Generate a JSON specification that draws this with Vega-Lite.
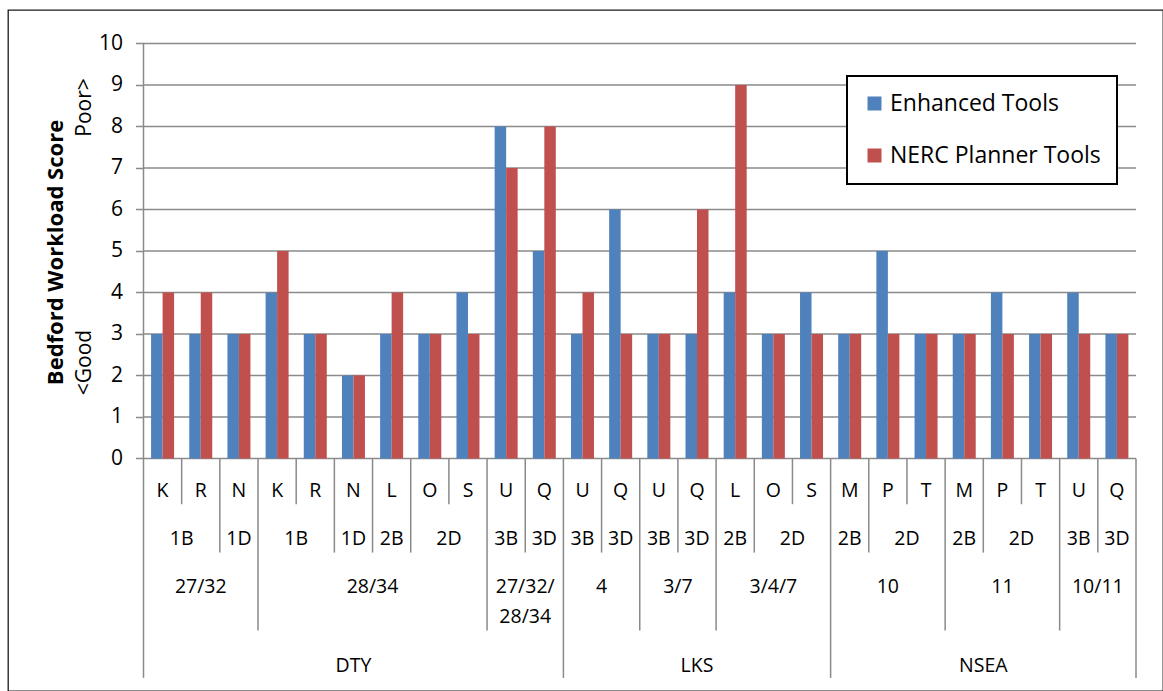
{
  "$schema": "https://vega.github.io/schema/vega-lite/v6.json",
  "width": 1155,
  "height": 681,
  "autosize": {"type": "none"},
  "padding": {"left": 8, "top": 10, "right": 0, "bottom": 0},
  "background": "white",
  "config": {
    "view": {"stroke": "#1a1a1a", "strokeWidth": 1.3},
    "font": "Open Sans",
    "text": {"font": "Open Sans", "color": "black"},
    "legend": {"strokeWidth": 2}
  },
  "datasets": {
    "bars": [
      {"cat": "c01", "series": "Enhanced Tools", "score": 3}, {"cat": "c01", "series": "NERC Planner Tools", "score": 4},
      {"cat": "c02", "series": "Enhanced Tools", "score": 3}, {"cat": "c02", "series": "NERC Planner Tools", "score": 4},
      {"cat": "c03", "series": "Enhanced Tools", "score": 3}, {"cat": "c03", "series": "NERC Planner Tools", "score": 3},
      {"cat": "c04", "series": "Enhanced Tools", "score": 4}, {"cat": "c04", "series": "NERC Planner Tools", "score": 5},
      {"cat": "c05", "series": "Enhanced Tools", "score": 3}, {"cat": "c05", "series": "NERC Planner Tools", "score": 3},
      {"cat": "c06", "series": "Enhanced Tools", "score": 2}, {"cat": "c06", "series": "NERC Planner Tools", "score": 2},
      {"cat": "c07", "series": "Enhanced Tools", "score": 3}, {"cat": "c07", "series": "NERC Planner Tools", "score": 4},
      {"cat": "c08", "series": "Enhanced Tools", "score": 3}, {"cat": "c08", "series": "NERC Planner Tools", "score": 3},
      {"cat": "c09", "series": "Enhanced Tools", "score": 4}, {"cat": "c09", "series": "NERC Planner Tools", "score": 3},
      {"cat": "c10", "series": "Enhanced Tools", "score": 8}, {"cat": "c10", "series": "NERC Planner Tools", "score": 7},
      {"cat": "c11", "series": "Enhanced Tools", "score": 5}, {"cat": "c11", "series": "NERC Planner Tools", "score": 8},
      {"cat": "c12", "series": "Enhanced Tools", "score": 3}, {"cat": "c12", "series": "NERC Planner Tools", "score": 4},
      {"cat": "c13", "series": "Enhanced Tools", "score": 6}, {"cat": "c13", "series": "NERC Planner Tools", "score": 3},
      {"cat": "c14", "series": "Enhanced Tools", "score": 3}, {"cat": "c14", "series": "NERC Planner Tools", "score": 3},
      {"cat": "c15", "series": "Enhanced Tools", "score": 3}, {"cat": "c15", "series": "NERC Planner Tools", "score": 6},
      {"cat": "c16", "series": "Enhanced Tools", "score": 4}, {"cat": "c16", "series": "NERC Planner Tools", "score": 9},
      {"cat": "c17", "series": "Enhanced Tools", "score": 3}, {"cat": "c17", "series": "NERC Planner Tools", "score": 3},
      {"cat": "c18", "series": "Enhanced Tools", "score": 4}, {"cat": "c18", "series": "NERC Planner Tools", "score": 3},
      {"cat": "c19", "series": "Enhanced Tools", "score": 3}, {"cat": "c19", "series": "NERC Planner Tools", "score": 3},
      {"cat": "c20", "series": "Enhanced Tools", "score": 5}, {"cat": "c20", "series": "NERC Planner Tools", "score": 3},
      {"cat": "c21", "series": "Enhanced Tools", "score": 3}, {"cat": "c21", "series": "NERC Planner Tools", "score": 3},
      {"cat": "c22", "series": "Enhanced Tools", "score": 3}, {"cat": "c22", "series": "NERC Planner Tools", "score": 3},
      {"cat": "c23", "series": "Enhanced Tools", "score": 4}, {"cat": "c23", "series": "NERC Planner Tools", "score": 3},
      {"cat": "c24", "series": "Enhanced Tools", "score": 3}, {"cat": "c24", "series": "NERC Planner Tools", "score": 3},
      {"cat": "c25", "series": "Enhanced Tools", "score": 4}, {"cat": "c25", "series": "NERC Planner Tools", "score": 3},
      {"cat": "c26", "series": "Enhanced Tools", "score": 3}, {"cat": "c26", "series": "NERC Planner Tools", "score": 3}
    ],
    "labels": [
      {"level": 1, "label": "K", "at": "c01", "n": 1}, {"level": 1, "label": "R", "at": "c02", "n": 1},
      {"level": 1, "label": "N", "at": "c03", "n": 1}, {"level": 1, "label": "K", "at": "c04", "n": 1},
      {"level": 1, "label": "R", "at": "c05", "n": 1}, {"level": 1, "label": "N", "at": "c06", "n": 1},
      {"level": 1, "label": "L", "at": "c07", "n": 1}, {"level": 1, "label": "O", "at": "c08", "n": 1},
      {"level": 1, "label": "S", "at": "c09", "n": 1}, {"level": 1, "label": "U", "at": "c10", "n": 1},
      {"level": 1, "label": "Q", "at": "c11", "n": 1}, {"level": 1, "label": "U", "at": "c12", "n": 1},
      {"level": 1, "label": "Q", "at": "c13", "n": 1}, {"level": 1, "label": "U", "at": "c14", "n": 1},
      {"level": 1, "label": "Q", "at": "c15", "n": 1}, {"level": 1, "label": "L", "at": "c16", "n": 1},
      {"level": 1, "label": "O", "at": "c17", "n": 1}, {"level": 1, "label": "S", "at": "c18", "n": 1},
      {"level": 1, "label": "M", "at": "c19", "n": 1}, {"level": 1, "label": "P", "at": "c20", "n": 1},
      {"level": 1, "label": "T", "at": "c21", "n": 1}, {"level": 1, "label": "M", "at": "c22", "n": 1},
      {"level": 1, "label": "P", "at": "c23", "n": 1}, {"level": 1, "label": "T", "at": "c24", "n": 1},
      {"level": 1, "label": "U", "at": "c25", "n": 1}, {"level": 1, "label": "Q", "at": "c26", "n": 1},
      {"level": 2, "label": "1B", "at": "c02", "n": 2}, {"level": 2, "label": "1D", "at": "c03", "n": 1},
      {"level": 2, "label": "1B", "at": "c05", "n": 2}, {"level": 2, "label": "1D", "at": "c06", "n": 1},
      {"level": 2, "label": "2B", "at": "c07", "n": 1}, {"level": 2, "label": "2D", "at": "c09", "n": 2},
      {"level": 2, "label": "3B", "at": "c10", "n": 1}, {"level": 2, "label": "3D", "at": "c11", "n": 1},
      {"level": 2, "label": "3B", "at": "c12", "n": 1}, {"level": 2, "label": "3D", "at": "c13", "n": 1},
      {"level": 2, "label": "3B", "at": "c14", "n": 1}, {"level": 2, "label": "3D", "at": "c15", "n": 1},
      {"level": 2, "label": "2B", "at": "c16", "n": 1}, {"level": 2, "label": "2D", "at": "c18", "n": 2},
      {"level": 2, "label": "2B", "at": "c19", "n": 1}, {"level": 2, "label": "2D", "at": "c21", "n": 2},
      {"level": 2, "label": "2B", "at": "c22", "n": 1}, {"level": 2, "label": "2D", "at": "c24", "n": 2},
      {"level": 2, "label": "3B", "at": "c25", "n": 1}, {"level": 2, "label": "3D", "at": "c26", "n": 1},
      {"level": 3, "label": "27/32", "at": "c02", "n": 3}, {"level": 3, "label": "28/34", "at": "c07", "n": 6},
      {"level": 3, "label": "27/32/\n28/34", "at": "c11", "n": 2}, {"level": 3, "label": "4", "at": "c13", "n": 2},
      {"level": 3, "label": "3/7", "at": "c15", "n": 2}, {"level": 3, "label": "3/4/7", "at": "c17", "n": 3},
      {"level": 3, "label": "10", "at": "c20", "n": 3}, {"level": 3, "label": "11", "at": "c23", "n": 3},
      {"level": 3, "label": "10/11", "at": "c26", "n": 2},
      {"level": 4, "label": "DTY", "at": "c06", "n": 11}, {"level": 4, "label": "LKS", "at": "c15", "n": 7},
      {"level": 4, "label": "NSEA", "at": "c23", "n": 8}
    ],
    "bounds": [
      {"cat": "c01", "depth": 4}, {"cat": "c02", "depth": 1}, {"cat": "c03", "depth": 2}, {"cat": "c04", "depth": 3},
      {"cat": "c05", "depth": 1}, {"cat": "c06", "depth": 2}, {"cat": "c07", "depth": 2}, {"cat": "c08", "depth": 2},
      {"cat": "c09", "depth": 1}, {"cat": "c10", "depth": 3}, {"cat": "c11", "depth": 2}, {"cat": "c12", "depth": 4},
      {"cat": "c13", "depth": 2}, {"cat": "c14", "depth": 3}, {"cat": "c15", "depth": 2}, {"cat": "c16", "depth": 3},
      {"cat": "c17", "depth": 2}, {"cat": "c18", "depth": 1}, {"cat": "c19", "depth": 4}, {"cat": "c20", "depth": 2},
      {"cat": "c21", "depth": 1}, {"cat": "c22", "depth": 3}, {"cat": "c23", "depth": 2}, {"cat": "c24", "depth": 1},
      {"cat": "c25", "depth": 3}, {"cat": "c26", "depth": 2}
    ],
    "grid": [
      {"v": 0}, {"v": 1}, {"v": 2}, {"v": 3}, {"v": 4}, {"v": 5},
      {"v": 6}, {"v": 7}, {"v": 8}, {"v": 9}, {"v": 10}
    ]
  },
  "resolve": {"axis": {"y": "independent"}},
  "layer": [
    {
      "data": {"name": "grid"},
      "mark": {"type": "rule", "color": "#8a8a8a", "strokeWidth": 1.5},
      "encoding": {
        "x": {"datum": "c01", "type": "nominal", "bandPosition": 0, "axis": null},
        "x2": {"datum": "c26", "bandPosition": 1},
        "y": {"field": "v", "type": "quantitative",
          "axis": {"orient": "left", "offset": -135.5, "labels": false, "ticks": false, "domain": false, "grid": false,
            "title": "Poor>", "titleFont": "Open Sans", "titleFontSize": 21, "titleFontWeight": "normal", "titleColor": "black",
            "titleAngle": 270, "titleAlign": "center", "titleBaseline": "alphabetic", "titleX": -53.5, "titleY": 97}}
      }
    },
    {
      "data": {"name": "bars"},
      "mark": {"type": "bar"},
      "encoding": {
        "x": {"field": "cat", "type": "nominal", "axis": null,
          "scale": {"domain": ["c01","c02","c03","c04","c05","c06","c07","c08","c09","c10","c11","c12","c13","c14","c15","c16","c17","c18","c19","c20","c21","c22","c23","c24","c25","c26"], "range": [135.5, 1128], "paddingInner": 0, "paddingOuter": 0}},
        "xOffset": {"field": "series", "type": "nominal",
          "scale": {"domain": ["Enhanced Tools", "NERC Planner Tools"], "paddingInner": 0, "paddingOuter": 0.66}},
        "y": {"field": "score", "type": "quantitative", "stack": null,
          "scale": {"domain": [-5.605, 10.805], "nice": false, "zero": false},
          "axis": {"orient": "left", "offset": -135.5, "values": [0,1,2,3,4,5,6,7,8,9,10], "domain": false, "grid": false,
            "tickSize": 8, "tickColor": "#8a8a8a", "tickWidth": 1.5,
            "labelFont": "Open Sans", "labelFontSize": 21, "labelColor": "black", "labelPadding": 13,
            "title": "Bedford Workload Score", "titleFont": "Open Sans", "titleFontSize": 22, "titleFontWeight": "bold", "titleColor": "black",
            "titleAngle": 270, "titleAlign": "center", "titleBaseline": "alphabetic", "titleX": -81.5, "titleY": 242}},
        "y2": {"datum": 0},
        "color": {"field": "series", "type": "nominal",
          "scale": {"domain": ["Enhanced Tools", "NERC Planner Tools"], "range": ["#4F81BD", "#C0504D"]},
          "legend": {"title": null, "orient": "none", "legendX": 839, "legendY": 66, "direction": "vertical",
            "symbolType": "square", "symbolSize": 196, "symbolStrokeWidth": 0, "symbolOpacity": 1,
            "labelFont": "Open Sans", "labelFontSize": 23, "labelColor": "black", "labelOffset": 4, "labelLimit": 400,
            "padding": 16, "rowPadding": 28, "strokeColor": "black", "fillColor": "white"}}
      }
    },
    {
      "data": {"name": "bounds"},
      "transform": [{"filter": "datum.depth == 1"}],
      "mark": {"type": "rule", "color": "#8a8a8a", "strokeWidth": 1.5},
      "encoding": {
        "x": {"field": "cat", "type": "nominal", "bandPosition": 0, "axis": null},
        "y": {"datum": 0, "type": "quantitative", "axis": null},
        "y2": {"datum": -1.104}
      }
    },
    {
      "data": {"name": "bounds"},
      "transform": [{"filter": "datum.depth == 2"}],
      "mark": {"type": "rule", "color": "#8a8a8a", "strokeWidth": 1.5},
      "encoding": {
        "x": {"field": "cat", "type": "nominal", "bandPosition": 0, "axis": null},
        "y": {"datum": 0, "type": "quantitative", "axis": null},
        "y2": {"datum": -2.27}
      }
    },
    {
      "data": {"name": "bounds"},
      "transform": [{"filter": "datum.depth == 3"}],
      "mark": {"type": "rule", "color": "#8a8a8a", "strokeWidth": 1.5},
      "encoding": {
        "x": {"field": "cat", "type": "nominal", "bandPosition": 0, "axis": null},
        "y": {"datum": 0, "type": "quantitative", "axis": null},
        "y2": {"datum": -4.149}
      }
    },
    {
      "data": {"name": "bounds"},
      "transform": [{"filter": "datum.depth == 4"}],
      "mark": {"type": "rule", "color": "#8a8a8a", "strokeWidth": 1.5},
      "encoding": {
        "x": {"field": "cat", "type": "nominal", "bandPosition": 0, "axis": null},
        "y": {"datum": 0, "type": "quantitative",
          "axis": {"orient": "left", "offset": -135.5, "labels": false, "ticks": false, "domain": false, "grid": false,
            "title": "<Good", "titleFont": "Open Sans", "titleFontSize": 21, "titleFontWeight": "normal", "titleColor": "black",
            "titleAngle": 270, "titleAlign": "center", "titleBaseline": "alphabetic", "titleX": -53.5, "titleY": 352}},
        "y2": {"datum": -5.289}
      }
    },
    {
      "data": {"name": "bounds"},
      "transform": [{"filter": "datum.cat == 'c26'"}],
      "mark": {"type": "rule", "color": "#8a8a8a", "strokeWidth": 1.5},
      "encoding": {
        "x": {"field": "cat", "type": "nominal", "bandPosition": 1, "axis": null},
        "y": {"datum": 0, "type": "quantitative", "axis": null},
        "y2": {"datum": -5.289}
      }
    },
    {
      "data": {"name": "bounds"},
      "transform": [{"filter": "datum.cat == 'c01'"}],
      "mark": {"type": "rule", "color": "#8a8a8a", "strokeWidth": 1.5},
      "encoding": {
        "x": {"field": "cat", "type": "nominal", "bandPosition": 0, "axis": null},
        "y": {"datum": 0, "type": "quantitative", "axis": null},
        "y2": {"datum": 10}
      }
    },
    {
      "data": {"name": "labels"},
      "transform": [{"filter": "datum.level == 1"}],
      "mark": {"type": "text", "fontSize": 19.5, "baseline": "alphabetic", "align": "center"},
      "encoding": {
        "x": {"field": "at", "type": "nominal", "bandPosition": 0.5, "axis": null},
        "y": {"datum": -0.936, "type": "quantitative", "axis": null},
        "text": {"field": "label"}
      }
    },
    {
      "data": {"name": "labels"},
      "transform": [{"filter": "datum.level == 2 && datum.n % 2 == 1"}],
      "mark": {"type": "text", "fontSize": 19.5, "baseline": "alphabetic", "align": "center"},
      "encoding": {
        "x": {"field": "at", "type": "nominal", "bandPosition": 0.5, "axis": null},
        "y": {"datum": -2.092, "type": "quantitative", "axis": null},
        "text": {"field": "label"}
      }
    },
    {
      "data": {"name": "labels"},
      "transform": [{"filter": "datum.level == 2 && datum.n % 2 == 0"}],
      "mark": {"type": "text", "fontSize": 19.5, "baseline": "alphabetic", "align": "center"},
      "encoding": {
        "x": {"field": "at", "type": "nominal", "bandPosition": 0, "axis": null},
        "y": {"datum": -2.092, "type": "quantitative", "axis": null},
        "text": {"field": "label"}
      }
    },
    {
      "data": {"name": "labels"},
      "transform": [{"filter": "datum.level == 3 && datum.n % 2 == 1"}],
      "mark": {"type": "text", "fontSize": 19.5, "baseline": "alphabetic", "align": "center", "lineBreak": "\n", "lineHeight": 29.4},
      "encoding": {
        "x": {"field": "at", "type": "nominal", "bandPosition": 0.5, "axis": null},
        "y": {"datum": -3.248, "type": "quantitative", "axis": null},
        "text": {"field": "label"}
      }
    },
    {
      "data": {"name": "labels"},
      "transform": [{"filter": "datum.level == 3 && datum.n % 2 == 0"}],
      "mark": {"type": "text", "fontSize": 19.5, "baseline": "alphabetic", "align": "center", "lineBreak": "\n", "lineHeight": 29.4},
      "encoding": {
        "x": {"field": "at", "type": "nominal", "bandPosition": 0, "axis": null},
        "y": {"datum": -3.248, "type": "quantitative", "axis": null},
        "text": {"field": "label"}
      }
    },
    {
      "data": {"name": "labels"},
      "transform": [{"filter": "datum.level == 4 && datum.n % 2 == 1"}],
      "mark": {"type": "text", "fontSize": 19.5, "baseline": "alphabetic", "align": "center"},
      "encoding": {
        "x": {"field": "at", "type": "nominal", "bandPosition": 0.5, "axis": null},
        "y": {"datum": -5.137, "type": "quantitative", "axis": null},
        "text": {"field": "label"}
      }
    },
    {
      "data": {"name": "labels"},
      "transform": [{"filter": "datum.level == 4 && datum.n % 2 == 0"}],
      "mark": {"type": "text", "fontSize": 19.5, "baseline": "alphabetic", "align": "center"},
      "encoding": {
        "x": {"field": "at", "type": "nominal", "bandPosition": 0, "axis": null},
        "y": {"datum": -5.137, "type": "quantitative", "axis": null},
        "text": {"field": "label"}
      }
    }
  ]
}
